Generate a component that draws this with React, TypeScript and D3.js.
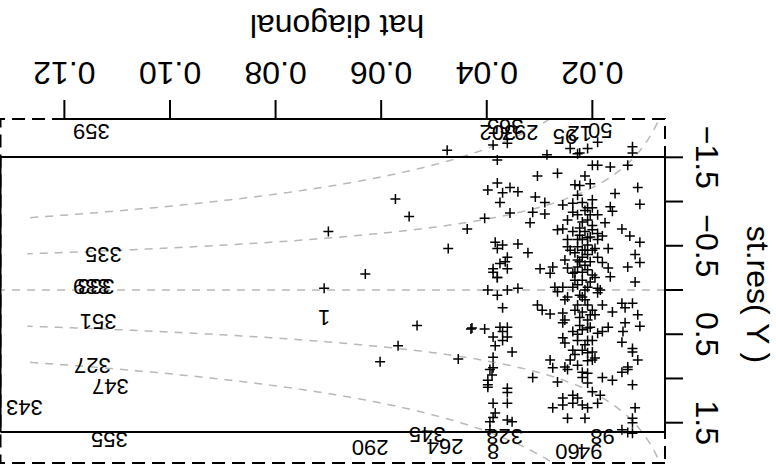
import React from 'react';
import * as d3 from 'd3';

const W = 776;
const H = 472;

// axis ticks
const xTicks = [0.02, 0.04, 0.06, 0.08, 0.1, 0.12];
const xTickLabels = ['0.02', '0.04', '0.06', '0.08', '0.10', '0.12'];
const yTicks = [-1.5, -1, -0.5, 0, 0.5, 1, 1.5];
const yTickLabels = ['\u22121.5', '', '\u22120.5', '', '0.5', '', '1.5'];

// plot ranges
const hatRange = [0.00624, 0.1321];
const innerRes = [-1.503, 1.605];
const outerRes = [-1.933, 1.955];
const cookLevels = [0.167, 0.333];
const cookHatEnd = 0.127;

// observations: [hat diagonal, st.res(Y)]
const obs: [number, number][] = [
  [0.0475, -1.58], [0.0388, -1.64], [0.0361, -1.66], [0.038, -1.47], [0.0286, -1.53], [0.0228, -1.54],
  [0.0242, -1.6], [0.0224, -1.55], [0.0209, -1.6], [0.019, -1.67], [0.0124, -1.62], [0.0124, -1.55],
  [0.02, -1.41], [0.019, -1.41], [0.0166, -1.39], [0.0133, -1.41], [0.0304, -1.29], [0.0266, -1.32],
  [0.0214, -1.29], [0.038, -1.21], [0.0398, -1.13], [0.0356, -1.16], [0.037, -1.1], [0.0341, -1.11],
  [0.0375, -0.99], [0.0233, -1.19], [0.0224, -1.18], [0.0204, -1.2], [0.0228, -1.07], [0.0114, -1.16],
  [0.0157, -1.09], [0.011, -0.97], [0.0308, -1.05], [0.029, -0.99], [0.0256, -0.96], [0.0237, -0.98],
  [0.0219, -0.99], [0.02, -1.02], [0.0209, -0.93], [0.02, -0.93], [0.0166, -0.94], [0.0162, -0.89],
  [0.0356, -0.87], [0.0404, -0.81], [0.0313, -0.88], [0.029, -0.86], [0.0237, -0.88], [0.0228, -0.85],
  [0.019, -0.85], [0.0318, -0.76], [0.0247, -0.79], [0.0219, -0.77], [0.0209, -0.79], [0.02, -0.73],
  [0.0176, -0.76], [0.0437, -0.69], [0.0266, -0.68], [0.0256, -0.69], [0.0237, -0.66], [0.0224, -0.7],
  [0.0214, -0.66], [0.02, -0.68], [0.019, -0.64], [0.0181, -0.61], [0.0144, -0.69], [0.0129, -0.61],
  [0.011, -0.54], [0.0384, -0.54], [0.037, -0.51], [0.038, -0.47], [0.0341, -0.52], [0.0473, -0.47],
  [0.0247, -0.57], [0.0247, -0.49], [0.0228, -0.57], [0.0228, -0.49], [0.0209, -0.59], [0.0209, -0.51],
  [0.0195, -0.47], [0.019, -0.57], [0.017, -0.47], [0.0361, -0.37], [0.0365, -0.32], [0.0322, -0.42],
  [0.0252, -0.34], [0.0233, -0.42], [0.0228, -0.34], [0.0219, -0.37], [0.0209, -0.4], [0.019, -0.37],
  [0.0181, -0.31], [0.0119, -0.4], [0.011, -0.31], [0.0388, -0.24], [0.038, -0.14], [0.0361, -0.24],
  [0.0299, -0.24], [0.0275, -0.26], [0.028, -0.19], [0.0247, -0.25], [0.0237, -0.19], [0.0228, -0.26],
  [0.0219, -0.2], [0.0209, -0.23], [0.02, -0.17], [0.0195, -0.14], [0.017, -0.25], [0.0166, -0.15],
  [0.0133, -0.26], [0.0119, -0.09], [0.0398, 0.0], [0.038, 0.06], [0.0361, 0.0], [0.0341, -0.02],
  [0.0271, -0.03], [0.0256, -0.03], [0.0237, -0.03], [0.0228, -0.06], [0.0209, -0.03], [0.019, -0.02],
  [0.0185, 0.0], [0.0247, 0.08], [0.0219, 0.08], [0.0573, -1.03], [0.0547, -0.83], [0.07, -0.66],
  [0.063, -0.18], [0.0708, -0.02], [0.0532, 0.4], [0.0568, 0.63], [0.0602, 0.81], [0.043, 0.44],
  [0.0404, 0.44], [0.0388, -0.2], [0.038, -0.14], [0.037, 0.2], [0.0266, 0.02], [0.0252, 0.11],
  [0.0224, 0.06], [0.0214, 0.11], [0.019, 0.03], [0.0304, 0.17], [0.0295, 0.23], [0.028, 0.27],
  [0.0256, 0.26], [0.0252, 0.34], [0.0256, 0.37], [0.0233, 0.23], [0.0224, 0.31], [0.0219, 0.25],
  [0.0209, 0.34], [0.02, 0.23], [0.0195, 0.28], [0.0181, 0.17], [0.0162, 0.25], [0.0144, 0.15],
  [0.0138, 0.2], [0.0124, 0.15], [0.0114, 0.28], [0.011, 0.41], [0.0428, 0.43], [0.0388, 0.53],
  [0.0375, 0.42], [0.037, 0.47], [0.037, 0.57], [0.0361, 0.42], [0.0361, 0.53], [0.0352, 0.7],
  [0.0237, 0.47], [0.0219, 0.45], [0.0209, 0.57], [0.0209, 0.43], [0.0256, 0.54], [0.0252, 0.6],
  [0.019, 0.49], [0.0181, 0.47], [0.017, 0.42], [0.0138, 0.37], [0.0142, 0.47], [0.0144, 0.59],
  [0.0124, 0.66], [0.0124, 0.7], [0.0114, 0.79], [0.0237, 0.68], [0.0233, 0.73], [0.0242, 0.79],
  [0.0209, 0.71], [0.02, 0.7], [0.0195, 0.77], [0.02, 0.79], [0.0454, 0.78], [0.0388, 0.76],
  [0.028, 0.79], [0.0275, 0.88], [0.0252, 0.87], [0.0247, 0.9], [0.0228, 0.85], [0.0219, 0.93],
  [0.0209, 0.94], [0.0219, 0.99], [0.0209, 1.05], [0.0133, 0.87], [0.0133, 0.9], [0.0144, 0.93],
  [0.0394, 0.9], [0.039, 0.96], [0.0398, 1.02], [0.0398, 1.07], [0.0313, 0.99], [0.0266, 1.04],
  [0.0181, 0.99], [0.0162, 1.02], [0.0124, 1.07], [0.0361, 1.11], [0.0361, 1.16], [0.0361, 1.28],
  [0.0388, 1.28], [0.0237, 1.19], [0.0228, 1.22], [0.0237, 1.28], [0.0219, 1.3], [0.0209, 1.33],
  [0.02, 1.15], [0.019, 1.28], [0.0185, 1.19], [0.0275, 1.33], [0.0256, 1.3], [0.0256, 1.22],
  [0.0119, 1.33], [0.0388, 1.44], [0.0384, 1.39], [0.0394, 1.49], [0.0361, 1.47], [0.0352, 1.49],
  [0.0247, 1.45], [0.0214, 1.45], [0.0124, 1.45], [0.0124, 1.5], [0.0394, 1.58], [0.0144, 1.58],
  [0.0133, 1.61], [0.0124, 1.62], [0.0224, -0.32], [0.0214, -0.28], [0.0204, -0.32], [0.0233, -0.11],
  [0.0219, -0.11], [0.0204, -0.09], [0.0228, 0.17], [0.0209, 0.17], [0.0224, 0.4], [0.0204, 0.42],
  [0.0228, 0.57], [0.02, 0.57], [0.0214, 0.62], [0.0242, -0.45], [0.0214, -0.45], [0.0219, -0.57],
  [0.02, -0.45], [0.0224, -0.62], [0.0204, -0.85], [0.0214, -0.9], [0.0388, 0.88], [0.0398, 1.1],
  [0.0384, 0.63], [0.0375, -0.3], [0.0219, -0.45], [0.0204, -0.6], [0.0214, 0.0], [0.0228, 0.5],
  [0.0209, 0.8], [0.0233, -0.2], [0.0204, 0.28], [0.0219, 0.68],
];

// observations drawn with their row name instead of a symbol
const labelIds = ['359', '335', '339', '333', '351', '327', '347', '343', '355', '1', '290', '264', '345', '8', '328', '98', '94', '60', '50', '12', '95', '297', '302', '365'];
const labelHat = [0.1149, 0.1126, 0.1149, 0.114, 0.1136, 0.1147, 0.1113, 0.1276, 0.1115, 0.0708, 0.0621, 0.0479, 0.0513, 0.0388, 0.0366, 0.0181, 0.0204, 0.0247, 0.0185, 0.0224, 0.0252, 0.0337, 0.0379, 0.0365];
const labelRes = [-1.79, -0.4, -0.03, -0.03, 0.36, 0.86, 1.1, 1.33, 1.7, 0.32, 1.79, 1.78, 1.64, 1.83, 1.66, 1.66, 1.83, 1.83, -1.8, -1.76, -1.73, -1.77, -1.77, -1.84];

const FONT = 'Arimo, "Liberation Sans", Arial, Helvetica, sans-serif';

export default function App() {
  const x = d3.scaleLinear().domain(hatRange).range([111, 775.5]);
  const y = d3.scaleLinear().domain([-1.5, 1.5]).range([314.7, 49.3]);

  const xl = x(hatRange[0]);
  const xr = x(hatRange[1]);
  const yOutTop = y(outerRes[1]);
  const yOutBot = y(outerRes[0]);
  const yInTop = y(innerRes[1]);
  const yInBot = y(innerRes[0]);

  const hs = d3.range(0.003, cookHatEnd + 1e-9, 0.0005);
  const cookPaths: string[] = [];
  cookLevels.forEach((k) => {
    [1, -1].forEach((s) => {
      const l = d3
        .line<number>()
        .x((h) => x(h))
        .y((h) => y((s * k * (1 - h)) / Math.sqrt(h)));
      cookPaths.push(l(hs) as string);
    });
  });

  const grey = '#b8b8b8';

  return (
    <svg width={W} height={H} style={{ position: 'absolute', left: 0, top: 0, background: '#fff' }} fontFamily={FONT}>
      <rect x={0} y={0} width={W} height={H} fill="#fff" />
      <g transform={`rotate(180 ${W / 2} ${H / 2})`}>
        <defs>
          <clipPath id="plotclip">
            <rect x={xl} y={yOutTop} width={xr - xl} height={yOutBot - yOutTop} />
          </clipPath>
        </defs>
        {/* Cook-type contours and zero line */}
        <g clipPath="url(#plotclip)" fill="none" stroke={grey} strokeWidth={1.5} strokeDasharray="8,7">
          {cookPaths.map((d, i) => (
            <path key={i} d={d} />
          ))}
          <line x1={xl} x2={xr} y1={y(0)} y2={y(0)} />
        </g>
        {/* outer dashed box */}
        <rect x={xl} y={yOutTop} width={xr - xl} height={yOutBot - yOutTop} fill="none" stroke="#000" strokeWidth={2} strokeDasharray="13,7" />
        {/* inner solid range lines */}
        <line x1={xl} x2={xr} y1={yInTop} y2={yInTop} stroke="#000" strokeWidth={2} />
        <line x1={xl} x2={xr} y1={yInBot} y2={yInBot} stroke="#000" strokeWidth={2} />
        <line x1={xl} x2={xl} y1={yInTop} y2={yInBot} stroke="#000" strokeWidth={2} />
        <line x1={xr} x2={xr} y1={yInTop} y2={yInBot} stroke="#000" strokeWidth={2} />
        {/* points */}
        <g stroke="#000" strokeWidth={1.5}>
          {obs.map(([h, r], i) => (
            <path key={i} d={`M${x(h) - 5},${y(r)}H${x(h) + 5}M${x(h)},${y(r) - 5}V${y(r) + 5}`} />
          ))}
        </g>
        <g fontSize={22} textAnchor="middle" fill="#000">
          {labelIds.map((id, i) => (
            <text key={i} x={x(labelHat[i])} y={y(labelRes[i]) + 8}>
              {id}
            </text>
          ))}
        </g>
        {/* x axis */}
        <line x1={x(xTicks[0])} x2={x(xTicks[xTicks.length - 1])} y1={yOutBot} y2={yOutBot} stroke="#000" strokeWidth={2} />
        {xTicks.map((t, i) => (
          <g key={i}>
            <line x1={x(t)} x2={x(t)} y1={yOutBot} y2={yOutBot + 19} stroke="#000" strokeWidth={2} />
            <text x={x(t)} y={410} fontSize={32} textAnchor="middle">
              {xTickLabels[i]}
            </text>
          </g>
        ))}
        <text x={439} y={457} fontSize={32} textAnchor="middle">
          hat diagonal
        </text>
        {/* y axis */}
        <line x1={xl} x2={xl} y1={y(-1.5)} y2={y(1.5)} stroke="#000" strokeWidth={2} />
        {yTicks.map((t, i) => (
          <g key={i}>
            <line x1={xl} x2={xl - 18} y1={y(t)} y2={y(t)} stroke="#000" strokeWidth={2} />
            {yTickLabels[i] && (
              <text transform={`translate(80 ${y(t)}) rotate(-90)`} fontSize={32} textAnchor="middle">
                {yTickLabels[i]}
              </text>
            )}
          </g>
        ))}
        <text transform={`translate(29 ${(yInTop + yInBot) / 2}) rotate(-90)`} fontSize={32} textAnchor="middle">
          st.res( Y )
        </text>
      </g>
    </svg>
  );
}
